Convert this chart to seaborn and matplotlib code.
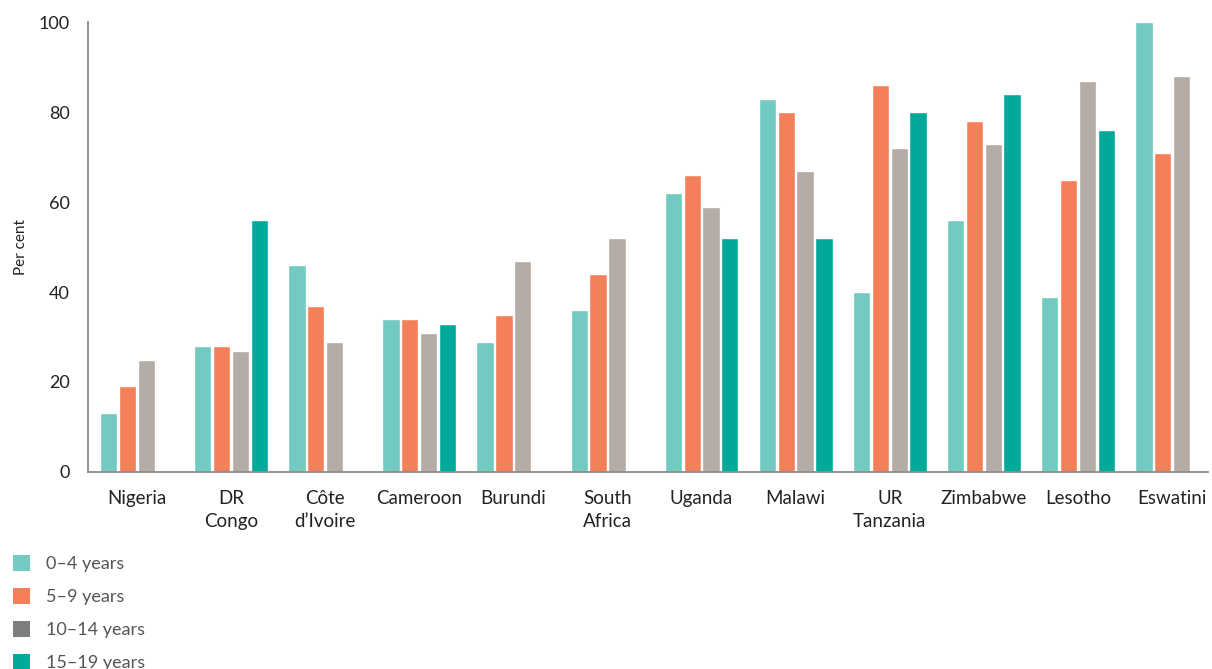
import numpy as np
import pandas as pd
import matplotlib
matplotlib.use("Agg")
import matplotlib.pyplot as plt
from matplotlib.patches import Patch
import seaborn as sns

countries = ["Nigeria", "DR\nCongo", "Côte\nd\u2019Ivoire", "Cameroon", "Burundi", "South\nAfrica",
             "Uganda", "Malawi", "UR\nTanzania", "Zimbabwe", "Lesotho", "Eswatini"]
age_groups = ["0\u20134 years", "5\u20139 years", "10\u201314 years", "15\u201319 years"]

age_0_4 = [13, 28, 46, 34, 29, 36, 62, 83, 40, 56, 39, 100]
age_5_9 = [19, 28, 37, 34, 35, 44, 66, 80, 86, 78, 65, 71]
age_10_14 = [25, 27, 29, 31, 47, 52, 59, 67, 72, 73, 87, 88]
age_15_19 = [np.nan, 56, np.nan, 33, np.nan, np.nan, 52, 52, 80, 84, 76, np.nan]

bar_colors = ["#72CAC0", "#F4805A", "#B5ACA5", "#00A99A"]
legend_colors = ["#72CAC0", "#F4805A", "#7E7E80", "#00A99A"]

df = pd.DataFrame({
    "country": countries * 4,
    "group": np.repeat(age_groups, len(countries)),
    "value": age_0_4 + age_5_9 + age_10_14 + age_15_19,
})

sns.set_style("white")
plt.rcParams["font.family"] = ["Lato", "DejaVu Sans"]

fig = plt.figure(figsize=(12.12, 6.69), dpi=100)
ax = fig.add_axes([0.0726, 0.2945, 0.924, 0.6725])

sns.barplot(data=df, x="country", y="value", hue="group", order=countries,
            hue_order=age_groups, palette=bar_colors, width=0.8, gap=0.08,
            saturation=1, ax=ax, legend=False)

ax.set_ylim(0, 100)
ax.set_xlim(-0.52, 11.38)
ax.set_yticks([0, 20, 40, 60, 80, 100])
ax.set_xlabel("")
ax.set_ylabel("Per cent", fontsize=11, color="#222222", labelpad=8)
ax.tick_params(axis="x", length=0, pad=13, labelsize=13.5, colors="#222222")
ax.tick_params(axis="y", length=0, pad=13, labelsize=13, colors="#222222")
for lbl in ax.get_xticklabels():
    lbl.set_linespacing(1.4)
for s in ["top", "right"]:
    ax.spines[s].set_visible(False)
for s in ["left", "bottom"]:
    ax.spines[s].set_color("#8C8C8C")
    ax.spines[s].set_linewidth(1.3)

handles = [Patch(facecolor=c, edgecolor="none") for c in legend_colors]
fig.legend(handles, age_groups, loc="lower left", bbox_to_anchor=(-0.003, -0.027),
           frameon=False, fontsize=13, labelcolor="#555555", handlelength=0.95,
           handleheight=0.95, handletextpad=0.9, labelspacing=0.88)

fig.savefig("out.png", dpi=100)
